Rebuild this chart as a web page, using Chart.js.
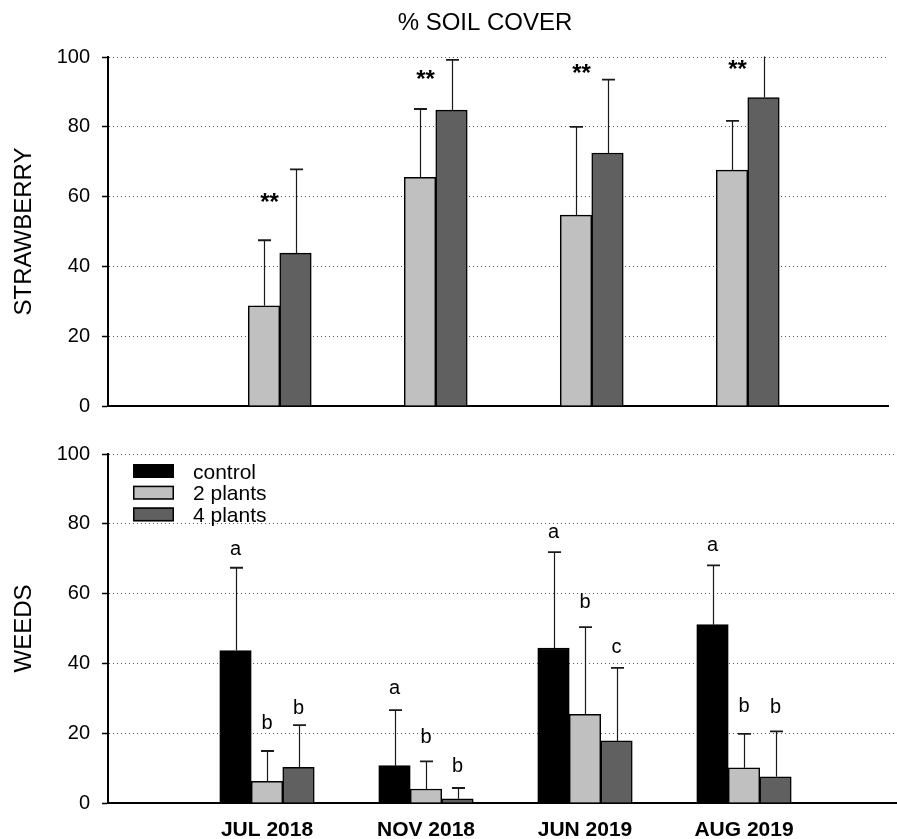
<!DOCTYPE html>
<html><head><meta charset="utf-8">
<script src="https://cdn.jsdelivr.net/npm/chart.js@4.4.1/dist/chart.umd.min.js"></script>
<style>
html,body{margin:0;padding:0;overflow:hidden;background:#fff;width:897px;height:839px;}
#wrap{position:relative;width:897px;height:839px;overflow:hidden;background:#fff;}
#top{position:absolute;left:0;top:0;}
#bot{position:absolute;left:0;top:430px;}
</style></head><body>
<div id="wrap"><canvas id="top" width="897" height="430"></canvas><canvas id="bot" width="910" height="409"></canvas></div>
<script>
// ---- data ----
const categories = ['JUL 2018', 'NOV 2018', 'JUN 2019', 'AUG 2019'];
const categoryX = [1, 2, 3, 4];
const seriesLabels = ['control', '2 plants', '4 plants'];
const yTickValues = [0, 20, 40, 60, 80, 100];

const strawberry2 = [28.7, 65.5, 54.7, 67.6];
const strawberry2Sd = [18.8, 19.6, 25.3, 14.1];
const strawberry4 = [43.8, 84.8, 72.5, 88.4];
const strawberry4Sd = [24.0, 14.4, 21.0, 17.0];
const strawberrySig = ['**', '**', '**', '**'];
const strawberrySigY = [56.3, 91.5, 93.0, 94.4];

const weedsControl = [43.7, 10.7, 44.4, 51.1];
const weedsControlSd = [23.7, 15.9, 27.5, 17.0];
const weeds2 = [6.2, 4.0, 25.4, 10.1];
const weeds2Sd = [8.7, 7.9, 25.0, 9.7];
const weeds4 = [10.2, 1.2, 17.8, 7.5];
const weeds4Sd = [12.1, 3.1, 20.9, 13.0];
const weedsControlLetters = ['a', 'a', 'a', 'a'];
const weeds2Letters = ['b', 'b', 'b', 'b'];
const weeds4Letters = ['b', 'b', 'c', 'b'];
const weedsControlLetterY = [71.2, 31.2, 76.0, 72.1];
const weeds2LetterY = [21.2, 17.3, 55.8, 26.2];
const weeds4LetterY = [25.6, 9.0, 42.9, 25.8];

// ---- helpers ----
const FONT = "'Liberation Sans', Arial, Helvetica, sans-serif";
const colors = ['#000000', '#c0c0c0', '#606060'];
const pts = arr => arr.map((v, i) => ({ x: categoryX[i], y: v }));

function barDs(idx, values, sd, extra) {
  return Object.assign({
    label: seriesLabels[idx],
    data: values ? pts(values) : [],
    sd: sd,
    backgroundColor: colors[idx],
    borderColor: '#000',
    borderWidth: 1.5,
    barThickness: 31.5,
  }, extra || {});
}

function yScale(title) {
  return {
    min: 0, max: 100,
    afterBuildTicks: s => { s.ticks = yTickValues.map(v => ({ value: v })); },
    ticks: { padding: 12, color: '#000', font: { family: FONT, size: 20 } },
    grid: { color: '#555', lineWidth: 1, tickLength: 6, tickColor: '#000', tickWidth: 1.5, tickBorderDash: [] },
    border: { display: true, color: '#000', width: 2, dash: [1, 3] },
    title: { display: true, text: title, color: '#000', font: { family: FONT, size: 24 }, padding: { top: 10, bottom: 0 } },
    afterFit: s => { s.width = 108; }
  };
}

const errorBarPlugin = {
  id: 'errbars',
  afterDatasetsDraw(chart) {
    const { ctx, chartArea: a } = chart;
    const y = chart.scales.y;
    ctx.save();
    ctx.beginPath(); ctx.rect(a.left, a.top - 0.5, a.right - a.left, a.bottom - a.top + 1); ctx.clip();
    chart.data.datasets.forEach((ds, di) => {
      if (!ds.sd) return;
      const meta = chart.getDatasetMeta(di);
      meta.data.forEach((bar, i) => {
        const top = y.getPixelForValue(ds.data[i].y + ds.sd[i]);
        const x = Math.round(bar.x) + 0.5;
        ctx.strokeStyle = '#1a1a1a';
        ctx.lineWidth = 1.2;
        ctx.beginPath(); ctx.moveTo(x, bar.y); ctx.lineTo(x, top); ctx.stroke();
        ctx.lineWidth = 1.8;
        ctx.beginPath(); ctx.moveTo(x - 6.5, top); ctx.lineTo(x + 6.5, top); ctx.stroke();
      });
    });
    ctx.restore();
  }
};

const letterPlugin = {
  id: 'letters',
  afterDatasetsDraw(chart) {
    const { ctx } = chart;
    const y = chart.scales.y;
    ctx.save();
    ctx.fillStyle = '#000';
    ctx.textAlign = 'center';
    ctx.textBaseline = 'alphabetic';
    chart.data.datasets.forEach((ds, di) => {
      if (!ds.letters) return;
      const meta = chart.getDatasetMeta(di);
      ctx.font = ds.letterFont;
      meta.data.forEach((bar, i) => {
        ctx.fillText(ds.letters[i], bar.x + (ds.letterDx || 0), y.getPixelForValue(ds.letterY[i]));
      });
    });
    ctx.restore();
  }
};

const titlePlugin = {
  id: 'maintitle',
  afterDraw(chart) {
    const { ctx, chartArea: a } = chart;
    ctx.save();
    ctx.fillStyle = '#000';
    ctx.font = '24px ' + FONT;
    ctx.textAlign = 'center';
    ctx.textBaseline = 'middle';
    ctx.fillText('% SOIL COVER', (a.left + a.right) / 2 - 13, 23);
    ctx.restore();
  }
};

const legendPlugin = {
  id: 'insideLegend',
  afterDraw(chart) {
    const { ctx, chartArea: a } = chart;
    ctx.save();
    ctx.font = '21px ' + FONT;
    ctx.textAlign = 'left';
    ctx.textBaseline = 'alphabetic';
    chart.data.datasets.forEach((ds, i) => {
      const bx = a.left + 25, by = a.top + 10 + i * 21.7;
      ctx.fillStyle = ds.backgroundColor;
      ctx.fillRect(bx, by, 41, 14);
      ctx.strokeStyle = '#000'; ctx.lineWidth = 1.5;
      ctx.strokeRect(bx + 0.75, by + 0.75, 39.5, 12.5);
      ctx.fillStyle = '#000';
      ctx.fillText(ds.label, bx + 60, by + 14.5);
    });
    ctx.restore();
  }
};

// ---- top chart: strawberry ----
new Chart(document.getElementById('top'), {
  type: 'bar',
  data: {
    datasets: [
      barDs(0, null, null),
      barDs(1, strawberry2, strawberry2Sd),
      barDs(2, strawberry4, strawberry4Sd, { letters: strawberrySig, letterY: strawberrySigY, letterFont: 'bold 24px ' + FONT, letterDx: -26 })
    ]
  },
  options: {
    responsive: false, animation: false,
    layout: { padding: { top: 57, right: 9, left: 0, bottom: 0 } },
    plugins: { legend: { display: false }, tooltip: { enabled: false }, title: { display: false } },
    scales: {
      x: {
        type: 'linear', min: 0, max: 5, offset: false,
        grid: { display: false, drawTicks: false },
        ticks: { display: false },
        border: { display: true, color: '#000', width: 2 },
        afterFit: s => { s.height = 12; }
      },
      y: yScale('STRAWBERRY')
    }
  },
  plugins: [errorBarPlugin, letterPlugin, titlePlugin]
});

// ---- bottom chart: weeds ----
new Chart(document.getElementById('bot'), {
  type: 'bar',
  data: {
    datasets: [
      barDs(0, weedsControl, weedsControlSd, { letters: weedsControlLetters, letterY: weedsControlLetterY, letterFont: '20px ' + FONT }),
      barDs(1, weeds2, weeds2Sd, { letters: weeds2Letters, letterY: weeds2LetterY, letterFont: '20px ' + FONT }),
      barDs(2, weeds4, weeds4Sd, { letters: weeds4Letters, letterY: weeds4LetterY, letterFont: '20px ' + FONT })
    ]
  },
  options: {
    responsive: false, animation: false,
    layout: { padding: { top: 13, right: 7, left: 0, bottom: 0 } },
    plugins: { legend: { display: false }, tooltip: { enabled: false }, title: { display: false } },
    scales: {
      x: {
        type: 'linear', min: 0, max: 5, offset: false,
        afterBuildTicks: s => { s.ticks = categoryX.map(v => ({ value: v })); },
        grid: { display: false, drawTicks: false },
        ticks: {
          autoSkip: false, maxRotation: 0, padding: 15, color: '#000',
          font: { family: FONT, size: 21, weight: 'bold' },
          callback: v => categories[categoryX.indexOf(v)] || ''
        },
        border: { display: true, color: '#000', width: 2 },
        afterFit: s => { s.height = 36; }
      },
      y: yScale('WEEDS')
    }
  },
  plugins: [errorBarPlugin, letterPlugin, legendPlugin]
});
</script>
</body></html>
